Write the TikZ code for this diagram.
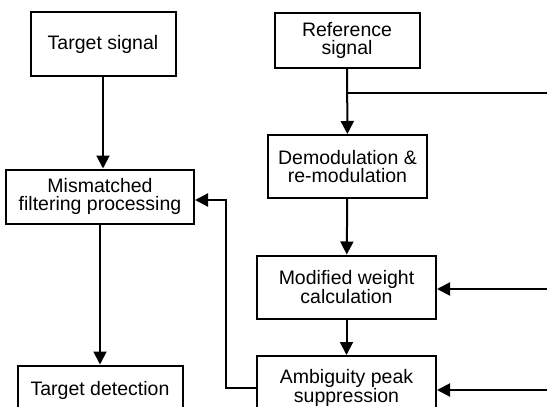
\documentclass[tikz,border=0pt]{standalone}
\usepackage{fontspec}
\setmainfont{Liberation Sans}
\usetikzlibrary{arrows.meta, positioning, calc}

\tikzset{
  blk/.style={draw, line width=2pt, align=center, inner sep=0pt,
    font=\fontsize{19.5}{18}\selectfont},
  arr/.style={line width=2pt, -{Triangle[length=13pt, width=13pt]}},
  ln/.style={line width=2pt}
}

\begin{document}
\begin{tikzpicture}[x=1pt, y=-1pt]
  \useasboundingbox (0,0) rectangle (547,407);
  \clip (0,0) rectangle (547,407);
  \node[blk, minimum width=145pt, minimum height=64pt] (tgt) at (103,44) {Target signal};
  \node[blk, minimum width=145pt, minimum height=55pt] (ref) at (347,40) {Reference\\signal};
  \node[blk, minimum width=159pt, minimum height=63pt] (demod) at (347.5,166.5) {Demodulation \&\\re-modulation};
  \node[blk, minimum width=188pt, minimum height=54pt] (mism) at (100,196.5) {Mismatched\\filtering processing};
  \node[blk, minimum width=179pt, minimum height=63pt] (wgt) at (346.5,287) {Modified weight\\calculation};
  \node[blk, minimum width=179pt, minimum height=64pt] (amb) at (346.5,388) {Ambiguity peak\\suppression};
  \node[blk, minimum width=165pt, minimum height=50pt] (det) at (100,390.5) {Target detection};
  % signal flow
  \draw[arr] (tgt) -- (tgt |- mism.north);
  \draw[arr] (mism) -- (mism |- det.north);
  \draw[arr] (ref) -- (demod);
  \draw[arr] (demod) -- (wgt);
  \draw[arr] (wgt) -- (amb);
  \coordinate (br) at (ref.south |- 0,93);
  \coordinate (out1) at (547,93);
  \draw[ln] (br) -- (out1);
  \coordinate (in1) at (547,289);
  \coordinate (in2) at (547,390);
  \draw[arr] (in1) -- (wgt.east |- in1);
  \draw[arr] (in2) -- (amb.east |- in2);
  % feedback
  \coordinate (fb) at (226,200);
  \draw[arr] (amb.west |- 0,387.5) -| (fb) -- (mism.east |- fb);
\end{tikzpicture}
\end{document}
